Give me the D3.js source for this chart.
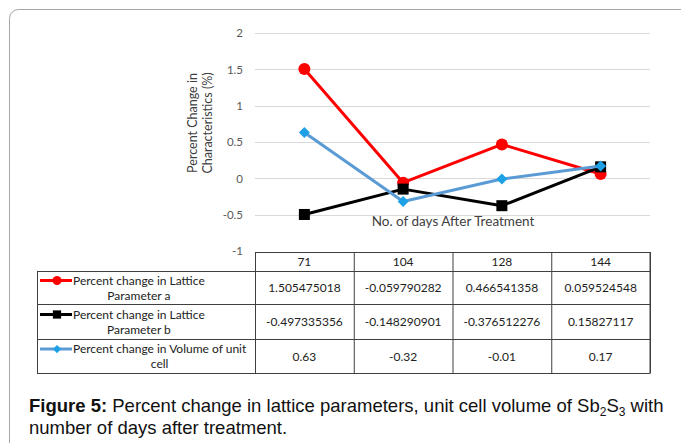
<!DOCTYPE html>
<html><head><meta charset="utf-8">
<script src="https://cdn.jsdelivr.net/npm/d3@7"></script>
<style>body{margin:0;background:#fff}svg{display:block}</style>
</head><body>
<svg id="c" width="681" height="443"></svg>
<script>
const categories = ["71", "104", "128", "144"];
const seriesNames = [
  ["Percent change in Lattice", "Parameter a"],
  ["Percent change in Lattice", "Parameter  b"],
  ["Percent change in Volume of unit", "cell"]
];
const lattA = [1.505475018, -0.059790282, 0.466541358, 0.059524548];
const lattB = [-0.497335356, -0.148290901, -0.376512276, 0.15827117];
const volume = [0.63, -0.32, -0.01, 0.17];
const tableText = [
  ["1.505475018", "-0.059790282", "0.466541358", "0.059524548"],
  ["-0.497335356", "-0.148290901", "-0.376512276", "0.15827117"],
  ["0.63", "-0.32", "-0.01", "0.17"]
];
const yTicks = [-1, -0.5, 0, 0.5, 1, 1.5, 2];

const series = [
  {values: lattA, color: "#ff0000", mcolor: "#ff0000", marker: "circle"},
  {values: lattB, color: "#000000", mcolor: "#000000", marker: "square"},
  {values: volume, color: "#5b9bd5", mcolor: "#1ea0e6", marker: "diamond"}
];

const svg = d3.select("#c");
const font = "Lato, 'Open Sans', sans-serif";

// frame
svg.append("rect").attr("x", 9.5).attr("y", 9.5).attr("width", 720).attr("height", 500)
  .attr("rx", 9).attr("fill", "none").attr("stroke", "#a6a6a6").attr("stroke-width", 1);

const x = d3.scaleBand().domain(categories).range([255, 650]);
const y = d3.scaleLinear().domain([-1, 2]).range([251, 33]);

// gridlines
svg.append("g").selectAll("line").data(yTicks.filter(d => d > -1)).join("line")
  .attr("x1", 255).attr("x2", 650)
  .attr("y1", d => Math.round(y(d)) + 0.5).attr("y2", d => Math.round(y(d)) + 0.5)
  .attr("stroke", "#d9d9d9").attr("stroke-width", 1);

// y axis labels
const yAxis = d3.axisLeft(y).tickValues(yTicks).tickSize(0).tickPadding(0).tickFormat(d3.format("~g"));
const ya = svg.append("g").attr("transform", "translate(243,0)").call(yAxis);
ya.select(".domain").remove();
ya.selectAll("text").attr("font-family", font).attr("font-size", 11.5).attr("fill", "#595959")
  .text(d => String(d));

// y title
const yt = svg.append("text").attr("transform", "translate(200,123) rotate(-90)")
  .attr("text-anchor", "middle").attr("font-family", font).attr("font-size", 12.5).attr("fill", "#404040");
yt.append("tspan").attr("x", 0).attr("dy", -3).text("Percent Change in");
yt.append("tspan").attr("x", 0).attr("dy", 14.5).text("Characteristics (%)");

// x title
svg.append("text").attr("x", 453).attr("y", 226).attr("text-anchor", "middle")
  .attr("font-family", font).attr("font-size", 13.5).attr("fill", "#404040")
  .text("No. of days After Treatment");

// lines
const cx = d => x(d) + x.bandwidth() / 2;
const line = d3.line().x((d, i) => cx(categories[i])).y(d => y(d));
function drawMarker(g, type, px, py, color, s) {
  if (type === "circle") g.append("circle").attr("cx", px).attr("cy", py).attr("r", 6 * s).attr("fill", color);
  else if (type === "square") g.append("rect").attr("x", px - 5.5 * s).attr("y", py - 5.5 * s)
    .attr("width", 11 * s).attr("height", 11 * s).attr("fill", color);
  else g.append("path").attr("d", `M${px},${py - 5.5 * s}L${px + 5.5 * s},${py}L${px},${py + 5.5 * s}L${px - 5.5 * s},${py}Z`).attr("fill", color);
}
series.forEach(s => {
  const g = svg.append("g");
  g.append("path").attr("d", line(s.values)).attr("fill", "none").attr("stroke", s.color)
    .attr("stroke-width", 3).attr("stroke-linejoin", "round");
  s.values.forEach((v, i) => drawMarker(g, s.marker, cx(categories[i]), y(v), s.mcolor, 1));
});

// table
const rowY = [252, 271, 304, 339, 373];
const tb = svg.append("g").attr("font-family", font).attr("font-size", 12).attr("fill", "#222");
const bc = "#3f3f3f";
tb.append("rect").attr("x", 255.5).attr("y", rowY[0] + 0.5).attr("width", 394.5).attr("height", rowY[1] - rowY[0])
  .attr("fill", "none").attr("stroke", bc);
categories.forEach((c, i) => {
  tb.append("line").attr("x1", x(c) + 0.5).attr("x2", x(c) + 0.5).attr("y1", rowY[0]).attr("y2", rowY[4]).attr("stroke", bc);
  tb.append("text").attr("x", cx(c)).attr("y", (rowY[0] + rowY[1]) / 2 + 4.5).attr("text-anchor", "middle").text(c);
});
tb.append("rect").attr("x", 37.5).attr("y", rowY[1] + 0.5).attr("width", 612.5).attr("height", rowY[4] - rowY[1])
  .attr("fill", "none").attr("stroke", bc);
for (let r = 1; r < 4; r++) {
  tb.append("line").attr("x1", 37).attr("x2", 650).attr("y1", rowY[r] + 0.5).attr("y2", rowY[r] + 0.5).attr("stroke", bc);
}
tb.append("line").attr("x1", 650.5).attr("x2", 650.5).attr("y1", rowY[0]).attr("y2", rowY[4]).attr("stroke", bc);
tableText.forEach((row, r) => {
  const mid = (rowY[r + 1] + rowY[r + 2]) / 2;
  row.forEach((t, i) => {
    tb.append("text").attr("x", cx(categories[i])).attr("y", mid + 4.5).attr("text-anchor", "middle").text(t);
  });
  const s = series[r];
  tb.append("line").attr("x1", 40).attr("x2", 72).attr("y1", mid - 7).attr("y2", mid - 7)
    .attr("stroke", s.color).attr("stroke-width", 3);
  drawMarker(tb, s.marker, 57, mid - 7, s.mcolor, 0.75);
  const t1 = tb.append("text").attr("x", 73).attr("y", mid - 3).text(seriesNames[r][0]);
  const w = t1.node().getComputedTextLength();
  tb.append("text").attr("x", 73 + w / 2).attr("y", mid + 12).attr("text-anchor", "middle").text(seriesNames[r][1]);
});

// caption
const capFont = "'Liberation Sans', Arial, sans-serif";
const cap = svg.append("text").attr("x", 29).attr("y", 412).attr("font-family", capFont)
  .attr("font-size", 18.5).attr("fill", "#111");
cap.append("tspan").attr("font-weight", "bold").text("Figure 5:");
cap.append("tspan").text(" Percent change in lattice parameters, unit cell volume of Sb");
cap.append("tspan").attr("font-size", 12).attr("dy", 4).text("2");
cap.append("tspan").attr("dy", -4).text("S");
cap.append("tspan").attr("font-size", 12).attr("dy", 4).text("3");
cap.append("tspan").attr("dy", -4).text(" with");
svg.append("text").attr("x", 29).attr("y", 434).attr("font-family", capFont)
  .attr("font-size", 18.5).attr("fill", "#111").text("number of days after treatment.");
</script>
</body></html>
